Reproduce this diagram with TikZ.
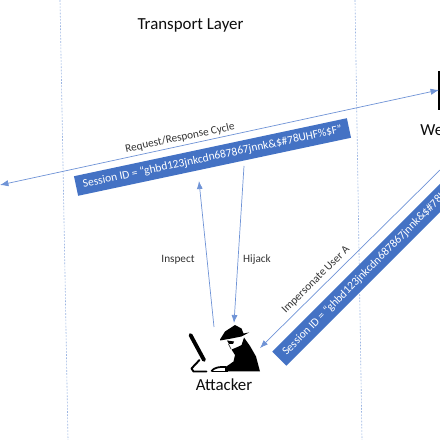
\documentclass[tikz,border=0pt]{standalone}
\usepackage{fontspec}
\setmainfont{Carlito}
\usetikzlibrary{arrows.meta,positioning}
\definecolor{barblue}{HTML}{4472C4}
\definecolor{linkblue}{HTML}{6F93D6}

\begin{document}
\begin{tikzpicture}[
  >=Latex,
  every node/.style={font=\rmfamily},
  sessionbar/.style={rectangle, fill=barblue, text=white, minimum width=5.58cm,
                     minimum height=0.4cm, inner sep=0pt, font=\rmfamily\fontsize{6.55pt}{8pt}\selectfont},
  linklabel/.style={text=black!80, inner sep=0pt, font=\rmfamily\fontsize{6.4pt}{8pt}\selectfont},
  biglabel/.style={text=black!95, inner sep=0pt, font=\rmfamily\fontsize{9.6pt}{11pt}\selectfont},
  flow/.style={-{Latex[length=1.6mm,width=1.2mm]}, linkblue, line width=0.4pt},
  boundary/.style={dash pattern=on 1pt off 0.8pt, linkblue!70, line width=0.35pt},
  silhouette/.style={fill=black, draw=none},
]
\useasboundingbox (0,0) rectangle (8.8,8.8);
\clip (0,0) rectangle (8.8,8.8);

% --------------------------------------------------------------- layers --
\coordinate (lefttop) at (1.2,8.8);
\coordinate (leftbot) at (1.36,0);
\coordinate (righttop) at (7.1,8.8);
\coordinate (rightbot) at (7.24,0);
\draw[boundary] (lefttop) -- (leftbot);
\draw[boundary] (righttop) -- (rightbot);
\node[biglabel] (title) at (3.81,8.3) {Transport Layer};

% ----------------------------------------------------------------- bars --
\node[sessionbar, rotate=12] (bar1) at (4.25,5.66) {Session ID = “ghbd123jnkcdn687867jnnk\&\$\#78UHF\%\$F”};
\node[sessionbar, rotate=45] (bar2) at (7.56,3.6) {Session ID = “ghbd123jnkcdn687867jnnk\&\$\#78UHF\%\$F”};

% ------------------------------------------------------------- attacker --
\node[biglabel] (attacker) at (4.48,1.1) {Attacker};
% monitor
\draw[black, line width=2.2pt, line cap=round] (3.81,2.10) -- (4.08,1.60);
\draw[black, line width=1.1pt, line cap=round, line join=round] (3.99,1.6) -- (3.83,1.43) -- (3.87,1.37) -- (4.13,1.37);
% keyboard
\draw[black, line width=1pt, line cap=round] (4.23,1.38) .. controls (4.28,1.45) and (4.4,1.47) .. (4.52,1.46);
\draw[black, line width=0.8pt] (4.23,1.37) -- (4.55,1.37);
% body
\path[silhouette] (4.88,2.05) -- (5.0,1.88) -- (5.12,1.67) -- (5.2,1.37) -- (4.5,1.37) -- (4.5,1.45)
  -- (4.67,1.57) -- (4.70,1.70) -- (4.63,1.81) -- (4.73,1.85) -- (4.83,1.90) -- cycle;
% hat
\path[silhouette] (4.40,2.01) -- (4.50,2.17) -- (4.70,2.30) -- (4.83,2.23) -- (4.87,2.13) -- (4.98,2.15)
  -- (4.83,2.07) -- (4.63,2.03) -- (4.40,1.99) -- cycle;
% face
\fill[black] (4.54,1.99) -- (4.68,1.97) -- (4.66,1.92) -- (4.58,1.92) -- cycle;
\draw[black!70, line width=0.5pt] (4.57,1.92) -- (4.62,1.82);

% ----------------------------------------------------------- web server --
\node[biglabel, anchor=west] (server) at (8.4,6.2) {We};
\coordinate (servertop) at (8.78,7.38);
\coordinate (serverbot) at (8.78,6.6);
\draw[black, line width=0.7pt] (servertop) -- (serverbot);

% ---------------------------------------------------------------- links --
\coordinate (cycleleft) at (0,5.1);
\coordinate (cycleright) at (8.78,7.0);
\coordinate (inspectfrom) at (4.28,2.26);
\coordinate (inspectto) at (3.98,5.18);
\coordinate (hijackfrom) at (4.88,5.48);
\coordinate (hijackto) at (4.68,2.34);
\coordinate (imperfrom) at (8.8,5.4);
\coordinate (imperto) at (5.2,1.84);
\draw[flow, <->] (cycleleft) -- (cycleright);
\draw[flow] (inspectfrom) -- (inspectto);
\draw[flow] (hijackfrom) -- (hijackto);
\draw[flow] (imperfrom) -- (imperto);

% --------------------------------------------------------------- labels --
\node[linklabel, rotate=12] (cyclelabel) at (3.6,6.04) {Request/Response Cycle};
\node[linklabel] (inspectlabel) at (3.56,3.6) {Inspect};
\node[linklabel] (hijacklabel) at (5.14,3.6) {Hijack};
\node[linklabel, rotate=45] (imperlabel) at (6.32,3.2) {Impersonate User A};

\end{tikzpicture}
\end{document}
